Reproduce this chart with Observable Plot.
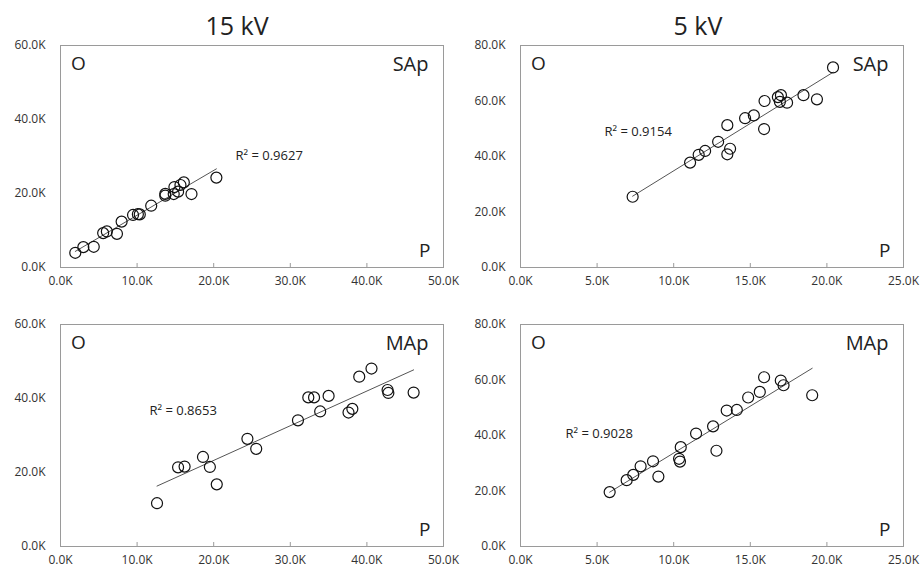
<!DOCTYPE html>
<html>
<head>
<meta charset="utf-8">
<script src="https://cdn.jsdelivr.net/npm/d3@7"></script>
<script src="https://cdn.jsdelivr.net/npm/@observablehq/plot@0.6"></script>
<style>
  html, body { margin: 0; padding: 0; background: #fff; }
  #wrap { position: relative; width: 921px; height: 574px; font-family: "Open Sans", "Noto Sans", sans-serif; }
  .title { position: absolute; top: 8px; font-size: 25px; color: #222; transform: translateX(-50%); white-space: nowrap; line-height: 34px; }
  .panel { position: absolute; }
</style>
</head>
<body>
<div id="wrap"></div>
<script>
// ---- data (values in raw units) ----
const columnTitles = ["15 kV", "5 kV"];
const rowLabels = ["SAp", "MAp"];
const r2Labels = ["R² = 0.9627", "R² = 0.9154", "R² = 0.8653", "R² = 0.9028"];

const xTicks15 = [0, 10000, 20000, 30000, 40000, 50000];
const xTicks5 = [0, 5000, 10000, 15000, 20000, 25000];
const yTicks60 = [0, 20000, 40000, 60000];
const yTicks80 = [0, 20000, 40000, 60000, 80000];

// 15 kV, SAp
const sap15P = [1930, 2980, 4340, 5570, 6050, 7370, 7980, 9470, 10100, 10350, 11840, 13680, 13680, 14780, 14870, 15350, 15660, 16100, 17100, 20350];
const sap15O = [3970, 5500, 5600, 9300, 9750, 9100, 12400, 14200, 14400, 14350, 16700, 19900, 19400, 19850, 21750, 20500, 22300, 23000, 19850, 24300];
// 5 kV, SAp
const sap5P = [7320, 11070, 11630, 12050, 12900, 13500, 13500, 13680, 14660, 15230, 15900, 15930, 16800, 17000, 16930, 17400, 18470, 19350, 20400];
const sap5O = [25500, 37800, 40600, 42000, 45300, 51300, 40800, 42800, 53800, 54800, 49900, 60000, 61400, 62100, 59700, 59400, 62100, 60600, 72100];
// 15 kV, MAp
const map15P = [12600, 15350, 16200, 18600, 19500, 20400, 24400, 25550, 31000, 32350, 33100, 33900, 35000, 37600, 38100, 39000, 40600, 42700, 42800, 46100];
const map15O = [11700, 21400, 21600, 24200, 21500, 16800, 29100, 26400, 34100, 40300, 40300, 36500, 40700, 36200, 37200, 45900, 48100, 42300, 41500, 41600];
// 5 kV, MAp
const map5P = [5820, 6930, 7360, 7840, 8650, 9000, 10350, 10410, 10460, 11460, 12570, 12790, 13460, 14120, 14860, 15620, 15900, 16990, 17170, 19040];
const map5O = [19600, 23900, 25800, 28900, 30700, 25200, 31600, 30600, 35800, 40700, 43300, 34500, 49000, 49200, 53700, 55700, 61000, 59800, 58100, 54500];

const fmtK = d => (d / 1000).toFixed(1) + "K";
const wrap = document.getElementById("wrap");

// titles
[[237, columnTitles[0]], [698, columnTitles[1]]].forEach(([cx, t]) => {
  const d = document.createElement("div");
  d.className = "title";
  d.style.left = cx + "px";
  d.textContent = t;
  wrap.appendChild(d);
});

const panels = [
  {P: sap15P, O: sap15O, xTicks: xTicks15, yTicks: yTicks60, row: 0, col: 0, r2: r2Labels[0], r2dx: 175, r2dy: 110},
  {P: sap5P,  O: sap5O,  xTicks: xTicks5,  yTicks: yTicks80, row: 0, col: 1, r2: r2Labels[1], r2dx: 84,  r2dy: 86},
  {P: map15P, O: map15O, xTicks: xTicks15, yTicks: yTicks60, row: 1, col: 0, r2: r2Labels[2], r2dx: 89,  r2dy: 86},
  {P: map5P,  O: map5O,  xTicks: xTicks5,  yTicks: yTicks80, row: 1, col: 1, r2: r2Labels[3], r2dx: 45,  r2dy: 109}
];

const font = "\"Open Sans\", \"Noto Sans\", sans-serif";

panels.forEach(p => {
  const data = p.P.map((v, i) => ({P: v, O: p.O[i]}));
  const top = p.row === 0 ? 30 : 300;
  const left = p.col === 0 ? 0 : 460;
  const width = p.col === 0 ? 460 : 461;
  const height = p.row === 0 ? 262 : 274;
  const marginTop = p.row === 0 ? 15 : 24;
  const marginBottom = p.row === 0 ? 25 : 28;
  const marginRight = p.col === 0 ? 17 : 18;
  const xMax = p.xTicks[p.xTicks.length - 1];
  const yMax = p.yTicks[p.yTicks.length - 1];

  const chart = Plot.plot({
    width, height,
    marginLeft: 60, marginRight, marginTop, marginBottom,
    style: {fontFamily: font, fontSize: "12px", color: "#333", background: "transparent", overflow: "visible"},
    x: {domain: [0, xMax], label: null},
    y: {domain: [0, yMax], label: null},
    marks: [
      Plot.frame({stroke: "#9a9a9a", strokeWidth: 1}),
      Plot.axisX({ticks: p.xTicks, tickFormat: fmtK, tickSize: -4, tickPadding: 13, stroke: "#9a9a9a", fill: "#333", label: null, fontSize: 12}),
      Plot.axisY({ticks: p.yTicks, tickFormat: fmtK, tickSize: 0, tickPadding: 15, fill: "#333", label: null, fontSize: 12}),
      Plot.linearRegressionY(data, {x: "P", y: "O", ci: 0, stroke: "#555", strokeWidth: 1}),
      Plot.dot(data, {x: "P", y: "O", r: 5.5, stroke: "#111", strokeWidth: 1.2, fill: "none"}),
      Plot.text(["O"], {frameAnchor: "top-left", dx: 18, dy: 18, textAnchor: "middle", lineAnchor: "middle", fontSize: 19, fill: "#222"}),
      Plot.text([rowLabels[p.row]], {frameAnchor: "top-right", dx: -15, dy: 19, textAnchor: "end", lineAnchor: "middle", fontSize: 20, fill: "#222"}),
      Plot.text(["P"], {frameAnchor: "bottom-right", dx: -13, dy: -17, textAnchor: "end", lineAnchor: "middle", fontSize: 19, fill: "#222"}),
      Plot.text([p.r2], {frameAnchor: "top-left", dx: p.r2dx, dy: p.r2dy, textAnchor: "start", lineAnchor: "middle", fontSize: 13, fill: "#222"})
    ]
  });
  chart.classList.add("panel");
  chart.style.position = "absolute";
  chart.style.left = left + "px";
  chart.style.top = top + "px";
  wrap.appendChild(chart);
});
</script>
</body>
</html>
